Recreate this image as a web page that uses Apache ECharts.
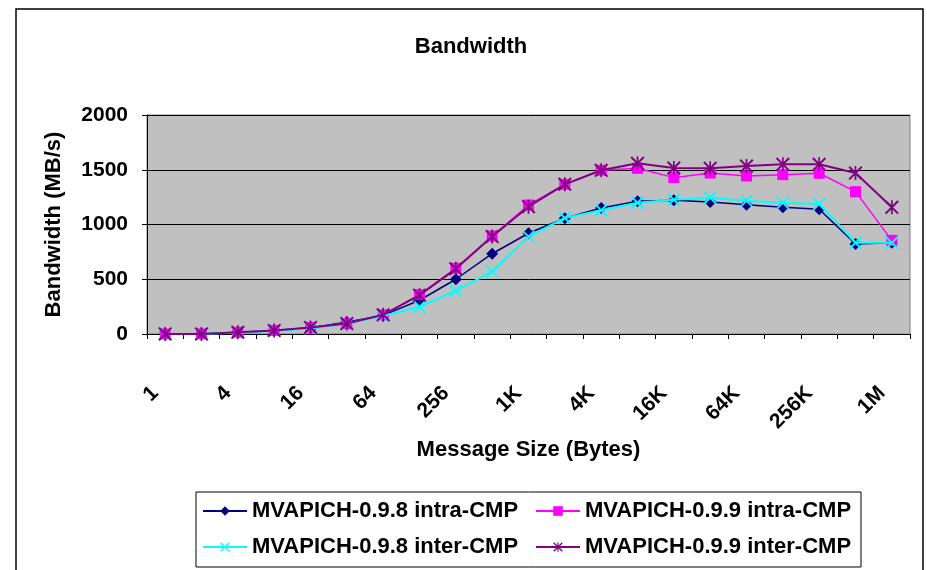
<!DOCTYPE html>
<html>
<head>
<meta charset="utf-8">
<script src="https://cdn.jsdelivr.net/npm/echarts@6/dist/echarts.min.js"></script>
<style>
html,body{margin:0;padding:0;background:#fff;}
#chart{width:927px;height:570px;}
</style>
</head>
<body>
<div id="chart"></div>
<script>
const categories = ['1','2','4','8','16','32','64','128','256','512','1K','2K','4K','8K','16K','32K','64K','128K','256K','512K','1M'];
const intra098 = [0.5, 1, 15, 30, 55, 110, 170, 308, 500, 733, 920, 1057, 1150, 1212, 1222, 1205, 1180, 1157, 1140, 822, 834];
const intra099 = [0.5, 1, 16, 33, 60, 95, 175, 360, 600, 895, 1178, 1367, 1495, 1513, 1428, 1470, 1443, 1455, 1468, 1300, 855];
const inter098 = [0.5, 1, 14, 30, 50, 95, 165, 249, 396, 569, 889, 1060, 1130, 1199, 1225, 1245, 1217, 1199, 1187, 834, 834];
const inter099 = [0.5, 1, 16, 33, 60, 95, 175, 355, 595, 890, 1163, 1367, 1495, 1559, 1516, 1513, 1534, 1550, 1550, 1470, 1157];
const yTicks = [0, 500, 1000, 1500, 2000];
const seriesNames = ['MVAPICH-0.9.8 intra-CMP','MVAPICH-0.9.9 intra-CMP','MVAPICH-0.9.8 inter-CMP','MVAPICH-0.9.9 inter-CMP'];

const FONT = 'Liberation Sans, Arial, sans-serif';
const xSym = 'path://M0,1L1,0L10,9L9,10ZM9,0L10,1L1,10L0,9Z';
const starSym = 'path://M0,1L1,0L10,9L9,10ZM9,0L10,1L1,10L0,9ZM4.4,0L5.6,0L5.6,10L4.4,10Z';

const chart = echarts.init(document.getElementById('chart'), null, {renderer:'canvas'});
function legendAt(name, left, top){
  return {
    data:[name], left:left, top:top, orient:'horizontal', padding:0,
    itemWidth:44, itemHeight:12, itemGap:5,
    textStyle:{fontFamily:FONT, fontSize:22, fontWeight:'bold', color:'#000'}
  };
}
const option = {
  animation:false,
  backgroundColor:'#fff',
  title:{
    text:'Bandwidth', left:466, top:31, textAlign:'center',
    textStyle:{fontFamily:FONT, fontSize:22, fontWeight:'bold', color:'#000'}
  },
  grid:{left:147, right:17, top:115, bottom:236, show:true, backgroundColor:'#C0C0C0', borderColor:'#808080', borderWidth:1, containLabel:false},
  legend:[
    legendAt(seriesNames[0], 202, 500),
    legendAt(seriesNames[1], 535, 500),
    legendAt(seriesNames[2], 202, 536),
    legendAt(seriesNames[3], 535, 536)
  ],
  xAxis:{
    type:'category', data:categories, boundaryGap:true,
    name:'Message Size (Bytes)', nameLocation:'middle', nameGap:105,
    nameTextStyle:{fontFamily:FONT, fontSize:22, fontWeight:'bold', color:'#000'},
    axisLine:{show:true, lineStyle:{color:'#000', width:1}},
    axisTick:{show:true, interval:0, length:5, lineStyle:{color:'#000'}},
    axisLabel:{interval:1, rotate:45, margin:46, padding:[0,14,0,0], fontFamily:FONT, fontSize:21, fontWeight:'bold', color:'#000'},
    splitLine:{show:false}
  },
  yAxis:{
    type:'value', min:yTicks[0], max:yTicks[yTicks.length-1], interval:500,
    name:'Bandwidth (MB/s)', nameLocation:'middle', nameGap:82,
    nameTextStyle:{fontFamily:FONT, fontSize:22, fontWeight:'bold', color:'#000'},
    axisLine:{show:true, lineStyle:{color:'#000', width:1}},
    axisTick:{show:true, length:5, lineStyle:{color:'#000'}},
    axisLabel:{margin:19, formatter:function(v){return String(v);}, fontFamily:FONT, fontSize:21, fontWeight:'bold', color:'#000'},
    splitLine:{show:true, lineStyle:{color:'#000', width:1}}
  },
  graphic:[
    {type:'rect', shape:{x:16, y:9, width:907, height:570}, style:{fill:'none', stroke:'#000', lineWidth:1.5}, silent:true, z:-1},
    {type:'rect', shape:{x:196, y:492, width:665, height:75}, style:{fill:'none', stroke:'#000', lineWidth:1}, silent:true}
  ],
  series:[
    {name:seriesNames[0], type:'line', data:intra098, symbol:'diamond', symbolSize:12,
     lineStyle:{color:'#000080', width:1.5}, itemStyle:{color:'#000080'}, z:2},
    {name:seriesNames[1], type:'line', data:intra099, symbol:'rect', symbolSize:11,
     lineStyle:{color:'#FF00FF', width:1.5}, itemStyle:{color:'#FF00FF'}, z:3},
    {name:seriesNames[2], type:'line', data:inter098, symbol:xSym, symbolSize:13,
     lineStyle:{color:'#00FFFF', width:2}, itemStyle:{color:'#00FFFF'}, z:4},
    {name:seriesNames[3], type:'line', data:inter099, symbol:starSym, symbolSize:14,
     lineStyle:{color:'#800080', width:2}, itemStyle:{color:'#800080'}, z:5}
  ]
};
chart.setOption(option);
</script>
</body>
</html>
